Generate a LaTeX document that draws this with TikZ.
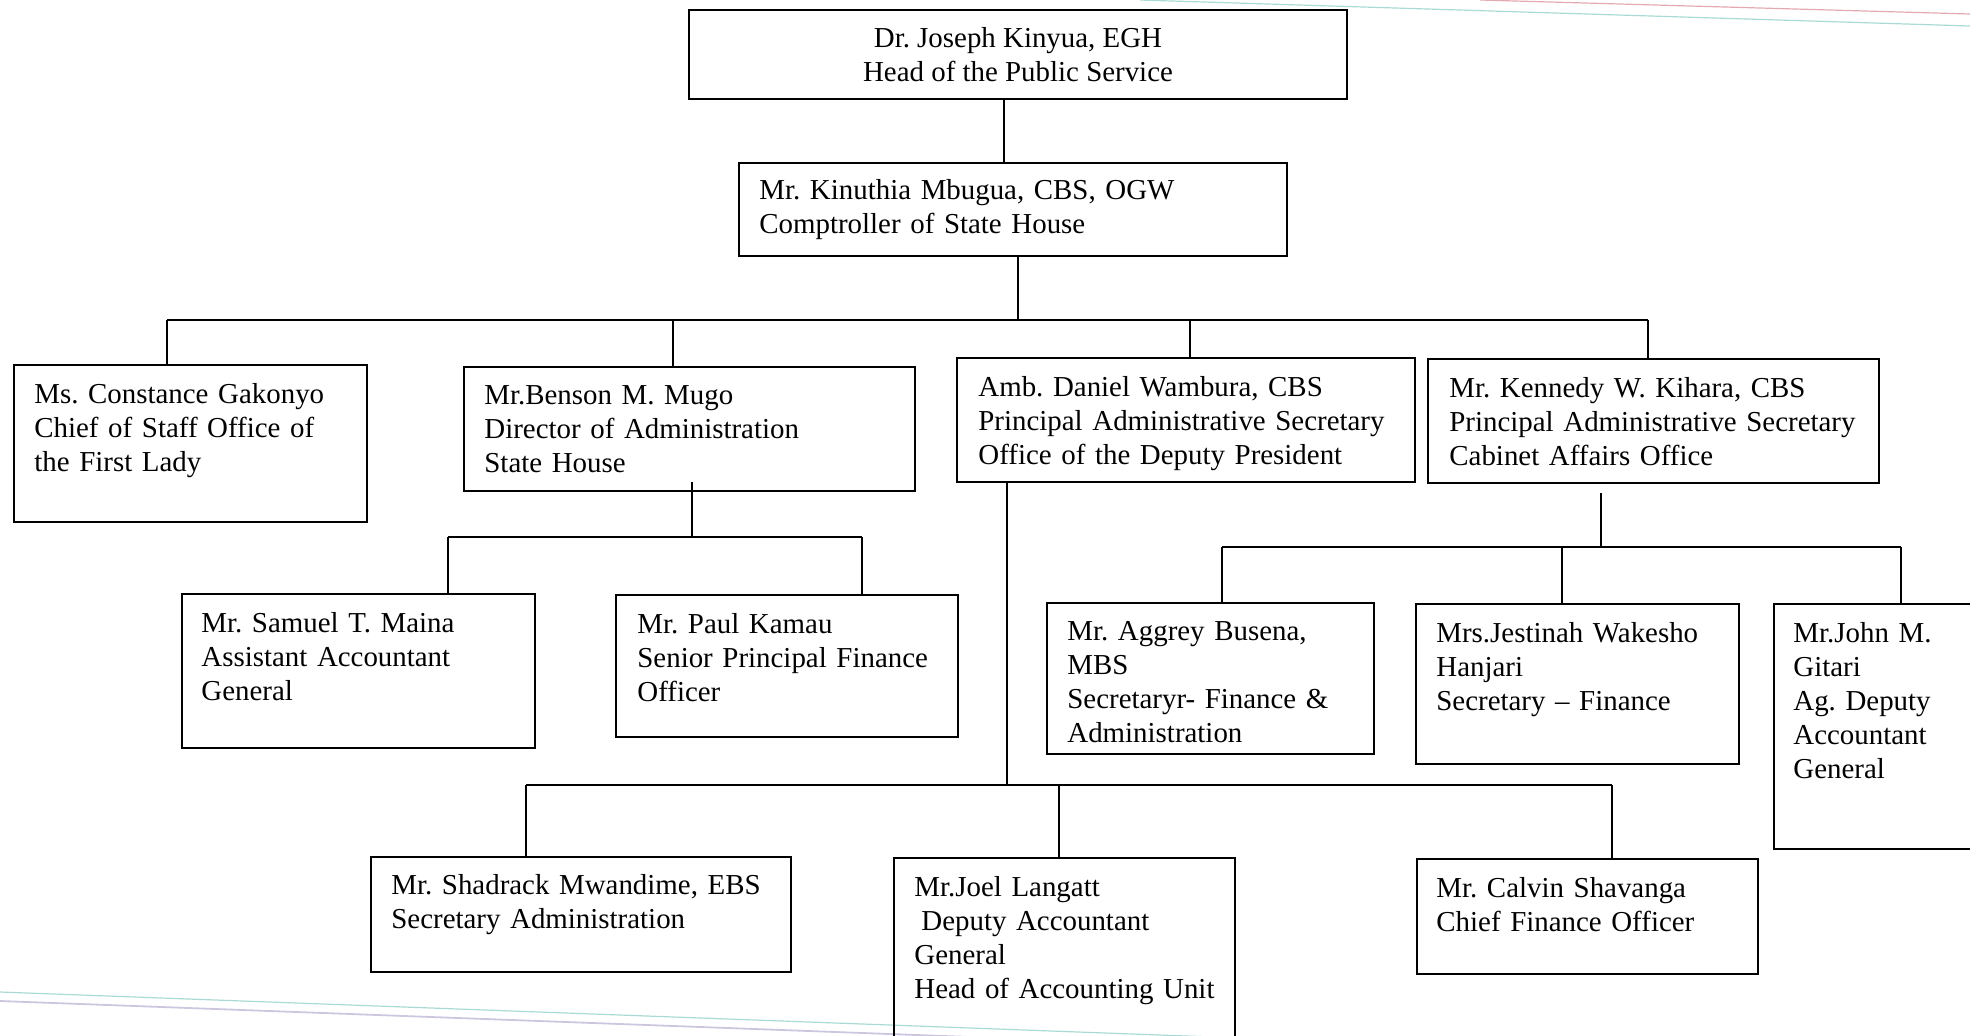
\documentclass[tikz,border=0pt]{standalone}
\usepackage{fontspec}
\setmainfont{Liberation Serif}
\usetikzlibrary{calc,fit}
\definecolor{scanteal}{RGB}{170,218,212}
\definecolor{scanpink}{RGB}{228,170,178}
\definecolor{scanlilac}{RGB}{205,198,222}
\frenchspacing
\begin{document}
\begin{tikzpicture}[x=0.5pt,y=-0.5pt,
  box/.style={draw=black, line width=1pt, inner sep=0pt},
  txt/.style={anchor=north west, inner sep=0pt, align=left, text width=220pt,
              font=\fontsize{14.45}{17}\selectfont},
  conn/.style={draw=black, line width=1pt}]
\useasboundingbox (0,0) rectangle (1970,1035);
\clip (0,0) rectangle (1970,1035);

% scan artefacts
\draw[scanteal, line width=0.6pt] (1140,0) -- (1970,26);
\draw[scanpink, line width=0.6pt] (1480,0) -- (1970,14);
\draw[scanteal, line width=0.6pt] (0,992) -- (1240,1038);
\draw[scanlilac, line width=0.9pt] (0,1001) -- (1240,1047);

% boxes
\node[box, fit={(689,10)(1347,99)}] (A) {};
\node[box, fit={(739,163)(1287,256)}] (B) {};
\node[box, fit={(14,365)(367,522)}] (C) {};
\node[box, fit={(464,367)(915,491)}] (D) {};
\node[box, fit={(957,358)(1415,482)}] (E) {};
\node[box, fit={(1428,359)(1879,483)}] (F) {};
\node[box, fit={(182,594)(535,748)}] (G) {};
\node[box, fit={(616,595)(958,737)}] (H) {};
\node[box, fit={(371,857)(791,972)}] (I) {};
\node[box, fit={(894,858)(1235,1060)}] (J) {};
\node[box, fit={(1417,859)(1758,974)}] (K) {};
\node[box, fit={(1047,603)(1374,754)}] (L) {};
\node[box, fit={(1416,604)(1739,764)}] (M) {};
\node[box, fit={(1774,604)(2010,849)}] (N) {};

% texts
\node[inner sep=0pt, align=center, font=\fontsize{14.45}{17}\selectfont] (At) at (A.center)
  {Dr. Joseph Kinyua, EGH\\Head of the Public Service};
\node[txt, anchor=west] (Bt) at ($(B.west)+(21,0)$)
  {Mr. Kinuthia Mbugua, CBS, OGW\\Comptroller of State House};
\node[txt] (Ct) at ($(C.north west)+(21,19)$)
  {Ms. Constance Gakonyo\\Chief of Staff Office of\\the First Lady};
\node[txt] (Dt) at ($(D.north west)+(21,19)$)
  {Mr.Benson M. Mugo\\Director of Administration\\State House};
\node[txt] (Et) at ($(E.north west)+(22,19)$)
  {Amb. Daniel Wambura, CBS\\Principal Administrative Secretary\\Office of the Deputy President};
\node[txt] (Ft) at ($(F.north west)+(22,19)$)
  {Mr. Kennedy W. Kihara, CBS\\Principal Administrative Secretary\\Cabinet Affairs Office};
\node[txt] (Gt) at ($(G.north west)+(20,19)$)
  {Mr. Samuel T. Maina\\Assistant Accountant\\General};
\node[txt] (Ht) at ($(H.north west)+(22,19)$)
  {Mr. Paul Kamau\\Senior Principal Finance\\Officer};
\node[txt] (It) at ($(I.north west)+(21,18)$)
  {Mr. Shadrack Mwandime, EBS\\Secretary Administration};
\node[txt] (Jt) at ($(J.north west)+(21,19)$)
  {Mr.Joel Langatt\\\hspace*{3.5pt}Deputy Accountant\\General\\Head of Accounting Unit};
\node[txt] (Kt) at ($(K.north west)+(20,19)$)
  {Mr. Calvin Shavanga\\Chief Finance Officer};
\node[txt] (Lt) at ($(L.north west)+(21,19)$)
  {Mr. Aggrey Busena,\\MBS\\Secretaryr- Finance \&\\Administration};
\node[txt] (Mt) at ($(M.north west)+(21,19)$)
  {Mrs.Jestinah Wakesho\\Hanjari\\Secretary -- Finance};
\node[txt] (Nt) at ($(N.north west)+(20,19)$)
  {Mr.John M.\\Gitari\\Ag. Deputy\\Accountant\\General};

% junction coordinates
\coordinate (xAB) at (1004,0);
\coordinate (j1) at (1018,320);
\coordinate (j1C) at (167,320);
\coordinate (j1D) at (673,320);
\coordinate (j1E) at (1190,320);
\coordinate (j1F) at (1648,320);
\coordinate (j2) at (692,537);
\coordinate (j2G) at (448,537);
\coordinate (j2H) at (862,537);
\coordinate (j3) at (1007,785);
\coordinate (j3I) at (526,785);
\coordinate (j3J) at (1059,785);
\coordinate (j3K) at (1612,785);
\coordinate (j4) at (1601,547);
\coordinate (j4L) at (1222,547);
\coordinate (j4M) at (1562,547);
\coordinate (j4N) at (1901,547);
\coordinate (s2) at ($(D.south -| j2)+(0,-10)$);
\coordinate (s4) at ($(F.south -| j4)+(0,9)$);

% connectors
\draw[conn] (A.south -| xAB) -- (B.north -| xAB);
\draw[conn] (B.south -| j1) -- (j1);
\draw[conn] (j1C) -- (j1F);
\draw[conn] (j1C) -- (C.north -| j1C);
\draw[conn] (j1D) -- (D.north -| j1D);
\draw[conn] (j1E) -- (E.north -| j1E);
\draw[conn] (j1F) -- (F.north -| j1F);

\draw[conn] (s2) -- (j2);
\draw[conn] (j2G) -- (j2H);
\draw[conn] (j2G) -- (G.north -| j2G);
\draw[conn] (j2H) -- (H.north -| j2H);

\draw[conn] (E.south -| j3) -- (j3);
\draw[conn] (j3I) -- (j3K);
\draw[conn] (j3I) -- (I.north -| j3I);
\draw[conn] (j3J) -- (J.north -| j3J);
\draw[conn] (j3K) -- (K.north -| j3K);

\draw[conn] (s4) -- (j4);
\draw[conn] (j4L) -- (j4N);
\draw[conn] (j4L) -- (L.north -| j4L);
\draw[conn] (j4M) -- (M.north -| j4M);
\draw[conn] (j4N) -- (N.north -| j4N);
\end{tikzpicture}
\end{document}
